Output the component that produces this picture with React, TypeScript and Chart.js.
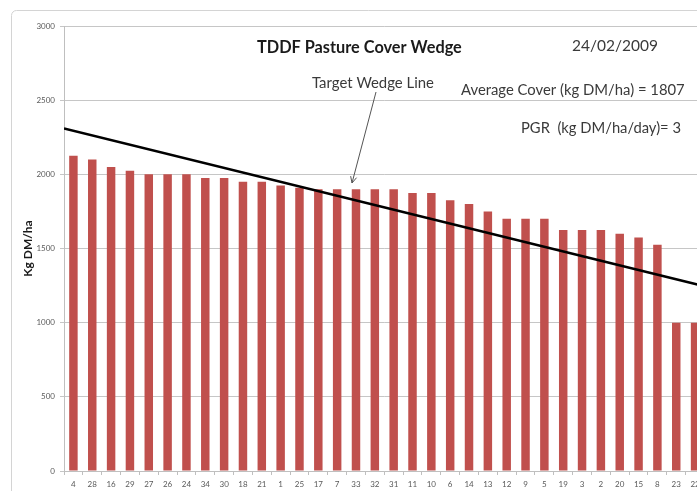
import React, { useEffect, useRef } from 'react';
import { Chart, registerables } from 'chart.js';

Chart.register(...registerables);

// ---- data ----
const paddocks = ['4', '28', '16', '29', '27', '26', '24', '34', '30', '18', '21', '1', '25', '17', '7', '33', '32', '31', '11', '10', '6', '14', '13', '12', '9', '5', '19', '3', '2', '20', '15', '8', '23', '22'];
const covers = [2125, 2100, 2050, 2025, 2000, 2000, 2000, 1975, 1975, 1950, 1950, 1925, 1910, 1900, 1900, 1900, 1900, 1900, 1875, 1875, 1825, 1800, 1750, 1700, 1700, 1700, 1625, 1625, 1625, 1600, 1575, 1525, 1000, 1000];
// target wedge line: value at the left edge and at the right edge of the plot
const targetLineEnds = [2310, 1245];
const yMin = 0;
const yMax = 3000;
const yStep = 500;

const chartTitle = 'TDDF Pasture Cover Wedge';
const dateText = '24/02/2009';
const targetLabel = 'Target Wedge Line';
const avgCoverText = 'Average Cover (kg DM/ha) = 1807';
const pgrText = 'PGR  (kg DM/ha/day)= 3';
const yTitle = 'Kg DM/ha';

const FONT = 'Lato, "Open Sans", "Liberation Sans", sans-serif';
const CANVAS_W = 720;
const CANVAS_H = 491;

function fitText(ctx: CanvasRenderingContext2D, text: string, x: number, yMid: number, width: number, weight: string, color: string) {
  ctx.font = `${weight} 100px ${FONT}`;
  const w = ctx.measureText(text).width;
  const size = (100 * width) / w;
  ctx.font = `${weight} ${size}px ${FONT}`;
  ctx.fillStyle = color;
  ctx.textAlign = 'left';
  ctx.textBaseline = 'middle';
  ctx.fillText(text, x, yMid);
}

const decorPlugin = {
  id: 'decor',
  beforeDraw(chart: any) {
    const ctx: CanvasRenderingContext2D = chart.ctx;
    ctx.save();
    ctx.fillStyle = '#ffffff';
    ctx.fillRect(0, 0, chart.width, chart.height);
    // outer chart frame (extends beyond the visible picture)
    ctx.strokeStyle = '#d4d4d4';
    ctx.lineWidth = 1;
    ctx.beginPath();
    ctx.roundRect(11.5, 10.5, chart.width + 20, chart.height + 20, 5);
    ctx.stroke();
    ctx.restore();
  },
  afterDraw(chart: any) {
    const ctx: CanvasRenderingContext2D = chart.ctx;
    ctx.save();
    fitText(ctx, chartTitle, 257, 48, 205, 'bold', '#1a1a1a');
    fitText(ctx, dateText, 572, 46, 86, 'normal', '#3a3a3a');
    fitText(ctx, targetLabel, 312, 83, 122, 'normal', '#3a3a3a');
    fitText(ctx, avgCoverText, 461, 90, 224, 'normal', '#3a3a3a');
    fitText(ctx, pgrText, 521, 128, 160, 'normal', '#3a3a3a');

    // arrow from the label to the target line
    const x1 = 376, y1 = 92, x2 = 352, y2 = 183;
    ctx.strokeStyle = '#555555';
    ctx.lineWidth = 1;
    ctx.beginPath();
    ctx.moveTo(x1, y1);
    ctx.lineTo(x2, y2);
    const ang = Math.atan2(y2 - y1, x2 - x1);
    const hl = 7;
    const spread = 0.45;
    ctx.moveTo(x2 - hl * Math.cos(ang - spread), y2 - hl * Math.sin(ang - spread));
    ctx.lineTo(x2, y2);
    ctx.lineTo(x2 - hl * Math.cos(ang + spread), y2 - hl * Math.sin(ang + spread));
    ctx.stroke();
    ctx.restore();
  },
};

export default function App() {
  const canvasRef = useRef<HTMLCanvasElement | null>(null);

  useEffect(() => {
    const canvas = canvasRef.current;
    if (!canvas) return;
    const chart = new Chart(canvas, {
      type: 'bar',
      data: {
        labels: paddocks,
        datasets: [
          {
            type: 'line' as any,
            label: 'Target',
            xAxisID: 'x2',
            data: [
              { x: 0, y: targetLineEnds[0] },
              { x: 1, y: targetLineEnds[1] },
            ] as any,
            borderColor: '#000000',
            borderWidth: 2.5,
            pointRadius: 0,
            fill: false,
            order: 0,
          } as any,
          {
            label: 'Cover',
            xAxisID: 'x',
            data: covers,
            backgroundColor: '#C0504D',
            borderWidth: 0,
            barPercentage: 0.45,
            categoryPercentage: 1,
            grouped: false,
            order: 1,
          },
        ],
      },
      options: {
        responsive: false,
        animation: false,
        devicePixelRatio: 1,
        layout: { padding: { left: 14, top: 26, right: CANVAS_W - 704.5, bottom: 0 } },
        plugins: {
          legend: { display: false },
          tooltip: { enabled: false },
          title: { display: false },
        },
        scales: {
          x: {
            type: 'category',
            offset: true,
            grid: {
              display: true,
              drawOnChartArea: false,
              drawTicks: true,
              tickLength: 4,
              color: '#bfbfbf',
              offset: true,
            },
            border: { display: true, color: '#bfbfbf' },
            ticks: {
              font: { family: FONT, size: 8 },
              color: '#595959',
              padding: 5,
              maxRotation: 0,
              autoSkip: false,
            },
            afterFit: (s: any) => {
              s.height = 20;
            },
          },
          x2: {
            type: 'linear',
            display: false,
            offset: false,
            grid: { offset: false },
            min: 0,
            max: 1,
          },
          y: {
            min: yMin,
            max: yMax,
            ticks: {
              stepSize: yStep,
              font: { family: FONT, size: 8 },
              color: '#595959',
              padding: 5,
              callback: (v: any) => String(v),
            },
            grid: { color: '#c6c6c6', tickLength: 4 },
            border: { display: true, color: '#bfbfbf' },
            title: {
              display: true,
              text: yTitle,
              font: { family: FONT, size: 12, weight: 'bold' },
              color: '#1a1a1a',
              padding: { top: 7, bottom: 0 },
            },
            afterFit: (s: any) => {
              s.width = 50;
            },
          },
        },
      } as any,
      plugins: [decorPlugin],
    });
    return () => chart.destroy();
  }, []);

  return (
    <div style={{ position: 'fixed', left: 0, top: 0, width: 697, height: 491, overflow: 'hidden', background: '#fff' }}>
      <canvas ref={canvasRef} width={CANVAS_W} height={CANVAS_H} style={{ display: 'block', width: CANVAS_W, height: CANVAS_H }} />
    </div>
  );
}
